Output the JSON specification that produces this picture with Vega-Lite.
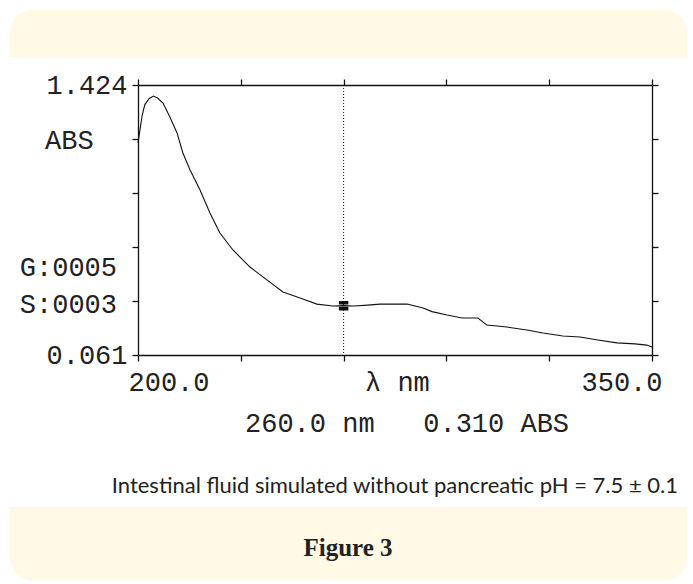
{
  "$schema": "https://vega.github.io/schema/vega-lite/v6.json",
  "width": 514,
  "height": 270,
  "autosize": {"type": "none"},
  "padding": {"left": 138, "top": 85, "right": 41, "bottom": 229},
  "background": "white",
  "config": {
    "view": {"stroke": null},
    "axis": {
      "grid": false,
      "domainColor": "#111111",
      "tickColor": "#111111",
      "tickSize": 6,
      "domainWidth": 1.3,
      "tickWidth": 1.3,
      "labelFont": "Liberation Mono",
      "labelFontSize": 27,
      "labelColor": "#222222"
    }
  },
  "datasets": {
    "spectrum": [
      {"nm": 200.0, "abs": 1.131}, {"nm": 200.6, "abs": 1.2}, {"nm": 201.2, "abs": 1.27},
      {"nm": 202.0, "abs": 1.325}, {"nm": 203.3, "abs": 1.356}, {"nm": 204.5, "abs": 1.368},
      {"nm": 205.7, "abs": 1.358}, {"nm": 207.3, "abs": 1.333}, {"nm": 209.3, "abs": 1.262},
      {"nm": 211.4, "abs": 1.182}, {"nm": 213.1, "abs": 1.081}, {"nm": 215.2, "abs": 0.995},
      {"nm": 218.1, "abs": 0.894}, {"nm": 221.0, "abs": 0.778}, {"nm": 223.9, "abs": 0.677},
      {"nm": 227.7, "abs": 0.591}, {"nm": 232.7, "abs": 0.505}, {"nm": 237.6, "abs": 0.44},
      {"nm": 242.3, "abs": 0.379}, {"nm": 247.3, "abs": 0.349}, {"nm": 252.2, "abs": 0.318},
      {"nm": 256.9, "abs": 0.308}, {"nm": 260.0, "abs": 0.31}, {"nm": 263.0, "abs": 0.308},
      {"nm": 267.1, "abs": 0.313}, {"nm": 270.6, "abs": 0.318}, {"nm": 278.5, "abs": 0.318},
      {"nm": 283.2, "abs": 0.298}, {"nm": 285.8, "abs": 0.28}, {"nm": 290.2, "abs": 0.263},
      {"nm": 294.6, "abs": 0.248}, {"nm": 299.2, "abs": 0.248}, {"nm": 301.8, "abs": 0.212},
      {"nm": 307.7, "abs": 0.202}, {"nm": 313.5, "abs": 0.187}, {"nm": 318.2, "abs": 0.172},
      {"nm": 324.0, "abs": 0.157}, {"nm": 329.0, "abs": 0.152}, {"nm": 334.2, "abs": 0.137},
      {"nm": 339.8, "abs": 0.122}, {"nm": 345.0, "abs": 0.117}, {"nm": 348.5, "abs": 0.111},
      {"nm": 350.0, "abs": 0.101}
    ]
  },
  "layer": [
    {
      "data": {"values": [{}]},
      "mark": {"type": "rect", "fill": "#fff9e5", "cornerRadiusTopLeft": 22, "cornerRadiusTopRight": 22},
      "encoding": {
        "x": {"datum": 162.65, "type": "quantitative", "scale": {"domain": [200, 350], "nice": false, "zero": false}, "axis": null},
        "x2": {"datum": 360.21},
        "y": {"datum": 1.8026, "type": "quantitative", "scale": {"domain": [0.061, 1.424], "nice": false, "zero": false}, "axis": null},
        "y2": {"datum": 1.5653}
      }
    },
    {
      "data": {"values": [{}]},
      "mark": {"type": "rect", "fill": "#fff9e5", "cornerRadiusBottomLeft": 22, "cornerRadiusBottomRight": 22},
      "encoding": {
        "x": {"datum": 162.65, "type": "quantitative", "scale": {"domain": [200, 350], "nice": false, "zero": false}, "axis": null},
        "x2": {"datum": 360.21},
        "y": {"datum": -0.7063, "type": "quantitative", "scale": {"domain": [0.061, 1.424], "nice": false, "zero": false}, "axis": null},
        "y2": {"datum": -1.0748}
      }
    },
    {
      "data": {"values": [{}]},
      "mark": {"type": "rule", "strokeDash": [1, 2], "color": "#111111", "strokeWidth": 1},
      "encoding": {
        "x": {"datum": 260, "type": "quantitative", "scale": {"domain": [200, 350], "nice": false, "zero": false}, "axis": null}
      }
    },
    {
      "data": {"name": "spectrum"},
      "mark": {"type": "line", "color": "#111111", "strokeWidth": 1.1},
      "encoding": {
        "x": {
          "field": "nm", "type": "quantitative",
          "scale": {"domain": [200, 350], "nice": false, "zero": false},
          "axis": {
            "orient": "bottom", "title": null, "zindex": 1,
            "values": [200, 230, 260, 290, 320, 350],
            "labelExpr": "datum.value == 200 ? '200.0' : (datum.value == 350 ? '350.0' : '')",
            "labelFlush": true, "labelFlushOffset": 10, "labelPadding": 8, "labelOverlap": false
          }
        },
        "y": {
          "field": "abs", "type": "quantitative",
          "scale": {"domain": [0.061, 1.424], "nice": false, "zero": false},
          "axis": {
            "orient": "left", "title": null, "zindex": 1,
            "values": [0.061, 0.3336, 0.6062, 0.8788, 1.1514, 1.424],
            "labelExpr": "datum.value > 1.4 ? '1.424' : (datum.value < 0.07 ? '0.061' : '')",
            "labelPadding": 5, "labelOverlap": false
          }
        }
      }
    },
    {
      "data": {"values": [{}]},
      "mark": {"type": "point", "shape": "M-1,-1H1V-0.25H-1Z M-1,0.25H1V1H-1Z", "filled": true, "color": "#111111", "size": 90, "opacity": 1},
      "encoding": {
        "x": {
          "datum": 260, "type": "quantitative",
          "scale": {"domain": [200, 350], "nice": false, "zero": false},
          "axis": {"orient": "top", "title": null, "zindex": 1, "labels": false, "values": [200, 230, 260, 290, 320, 350]}
        },
        "y": {
          "datum": 0.31, "type": "quantitative",
          "scale": {"domain": [0.061, 1.424], "nice": false, "zero": false},
          "axis": {"orient": "right", "title": null, "zindex": 1, "labels": false, "values": [0.061, 0.3336, 0.6062, 0.8788, 1.1514, 1.424]}
        }
      }
    },
    {
      "data": {"values": [{}]},
      "mark": {"type": "text", "text": "\u03bb nm", "font": "Liberation Mono", "fontSize": 27, "color": "#222222", "align": "left", "baseline": "middle"},
      "encoding": {
        "x": {"datum": 266.25, "type": "quantitative", "scale": {"domain": [200, 350], "nice": false, "zero": false}, "axis": null},
        "y": {"datum": -0.0803, "type": "quantitative", "scale": {"domain": [0.061, 1.424], "nice": false, "zero": false}, "axis": null}
      }
    },
    {
      "data": {"values": [{}]},
      "mark": {"type": "text", "text": "ABS", "font": "Liberation Mono", "fontSize": 27, "color": "#222222", "align": "left", "baseline": "middle"},
      "encoding": {
        "x": {"datum": 172.86, "type": "quantitative", "scale": {"domain": [200, 350], "nice": false, "zero": false}, "axis": null},
        "y": {"datum": 1.1413, "type": "quantitative", "scale": {"domain": [0.061, 1.424], "nice": false, "zero": false}, "axis": null}
      }
    },
    {
      "data": {"values": [{}]},
      "mark": {"type": "text", "text": "G:0005", "font": "Liberation Mono", "fontSize": 27, "color": "#222222", "align": "right", "baseline": "middle"},
      "encoding": {
        "x": {"datum": 193.87, "type": "quantitative", "scale": {"domain": [200, 350], "nice": false, "zero": false}, "axis": null},
        "y": {"datum": 0.5002, "type": "quantitative", "scale": {"domain": [0.061, 1.424], "nice": false, "zero": false}, "axis": null}
      }
    },
    {
      "data": {"values": [{}]},
      "mark": {"type": "text", "text": "S:0003", "font": "Liberation Mono", "fontSize": 27, "color": "#222222", "align": "right", "baseline": "middle"},
      "encoding": {
        "x": {"datum": 193.87, "type": "quantitative", "scale": {"domain": [200, 350], "nice": false, "zero": false}, "axis": null},
        "y": {"datum": 0.3134, "type": "quantitative", "scale": {"domain": [0.061, 1.424], "nice": false, "zero": false}, "axis": null}
      }
    },
    {
      "data": {"values": [{}]},
      "mark": {"type": "text", "text": "260.0 nm\u00a0\u00a0\u00a00.310 ABS", "font": "Liberation Mono", "fontSize": 27, "color": "#222222", "align": "left", "baseline": "middle"},
      "encoding": {
        "x": {"datum": 231.23, "type": "quantitative", "scale": {"domain": [200, 350], "nice": false, "zero": false}, "axis": null},
        "y": {"datum": -0.2873, "type": "quantitative", "scale": {"domain": [0.061, 1.424], "nice": false, "zero": false}, "axis": null}
      }
    },
    {
      "data": {"values": [{}]},
      "mark": {"type": "text", "text": "Intestinal fluid simulated without pancreatic pH = 7.5 \u00b1 0.1", "font": "Lato", "fontSize": 22, "color": "#222222", "align": "right", "baseline": "middle"},
      "encoding": {
        "x": {"datum": 357.59, "type": "quantitative", "scale": {"domain": [200, 350], "nice": false, "zero": false}, "axis": null},
        "y": {"datum": -0.6003, "type": "quantitative", "scale": {"domain": [0.061, 1.424], "nice": false, "zero": false}, "axis": null}
      }
    },
    {
      "data": {"values": [{}]},
      "mark": {"type": "text", "text": "Figure 3", "font": "Liberation Serif", "fontSize": 25, "fontWeight": "bold", "color": "#222222", "align": "center", "baseline": "middle"},
      "encoding": {
        "x": {"datum": 261.28, "type": "quantitative", "scale": {"domain": [200, 350], "nice": false, "zero": false}, "axis": null},
        "y": {"datum": -0.9133, "type": "quantitative", "scale": {"domain": [0.061, 1.424], "nice": false, "zero": false}, "axis": null}
      }
    }
  ],
  "resolve": {"axis": {"x": "independent", "y": "independent"}}
}
